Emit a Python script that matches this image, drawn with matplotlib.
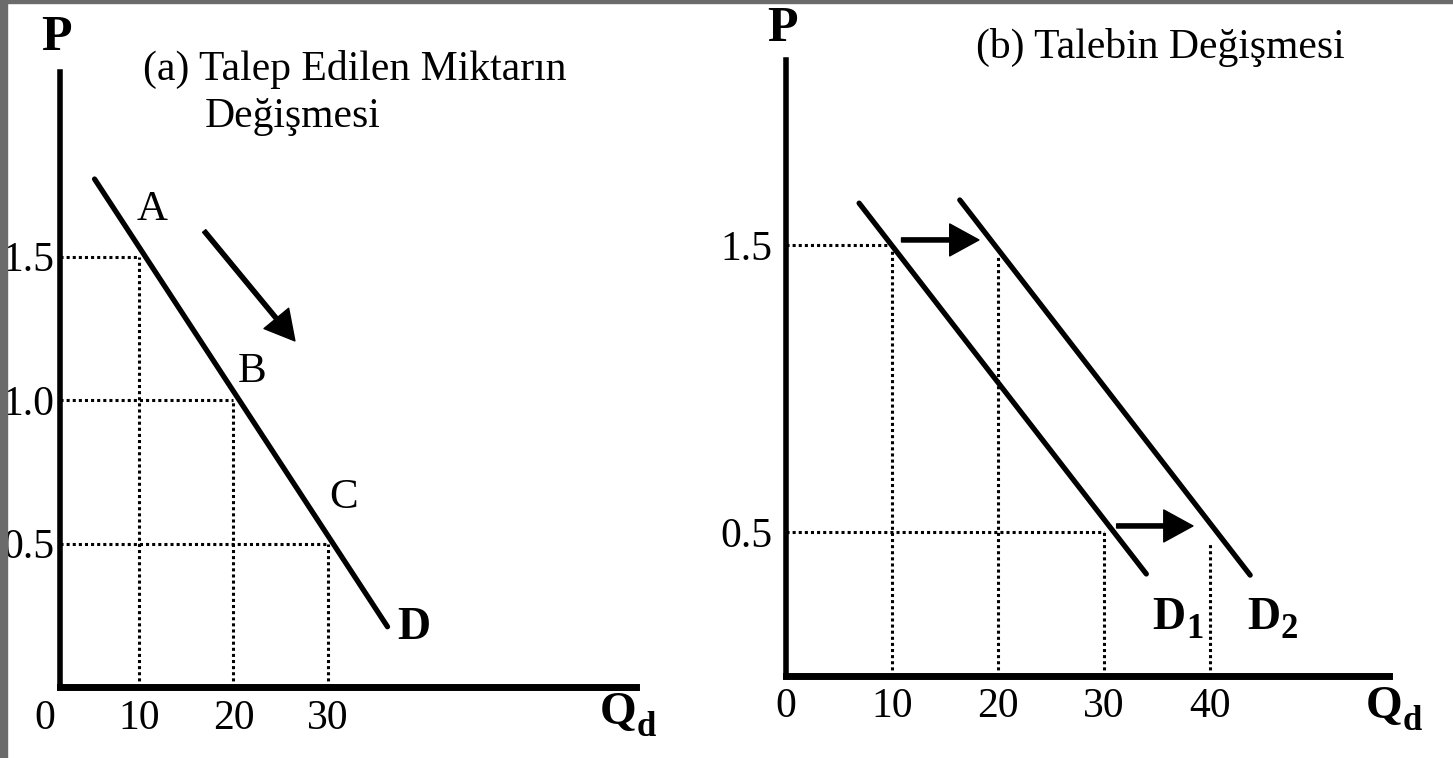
import matplotlib
matplotlib.use("Agg")
import matplotlib.pyplot as plt
from matplotlib.patches import Rectangle

W, H = 1453, 758

# (a) movement along one demand curve
a_q = [10, 20, 30]
a_p = [1.5, 1.0, 0.5]
a_names = ["A", "B", "C"]
a_demand_q = [5.3, 36.3]
a_demand_p = [1.77, 0.21]
a_xticks = [0, 10, 20, 30]
a_yticks = [0.5, 1.0, 1.5]
a_ylabels = ["0.5", "1.0", "1.5"]

# (b) shift of the demand curve
b_d1_q = [6.9, 34.0]
b_d1_p = [1.645, 0.355]
b_d2_q = [16.4, 43.8]
b_d2_p = [1.656, 0.351]
b_q_old = [10, 30]
b_q_new = [20, 40]
b_p = [1.5, 0.5]
b_xticks = [0, 10, 20, 30, 40]
b_yticks = [0.5, 1.5]

plt.rcParams["font.family"] = ["Liberation Serif", "DejaVu Serif"]


def fpos(x, y):
    # pixel position -> figure fraction
    return x / W, 1 - y / H


def setup_axes(ax, xmax, spine_x=0.0):
    ax.set_xlim(0, xmax)
    ax.set_ylim(0, 2.143)
    for side in ["top", "right"]:
        ax.spines[side].set_visible(False)
    ax.spines["left"].set_position(("data", spine_x))
    ax.spines["left"].set_linewidth(4)
    ax.spines["bottom"].set_linewidth(5)
    ax.spines["bottom"].set_bounds(spine_x, xmax)
    for s in ["left", "bottom"]:
        ax.spines[s].set_capstyle("projecting")
    ax.patch.set_alpha(0)
    ax.tick_params(length=0, labelsize=30)


def sub_label(ax, x, y, main, sub, size, sub_size, drop=-7, **kw):
    # bold letter with a subscript that sits a bit under the baseline
    t = ax.text(x, y, main, fontsize=size, fontweight="bold",
                ha="left", va="baseline", clip_on=False, **kw)
    ax.annotate(sub, xy=(1, 0), xycoords=t, xytext=(0, drop),
                textcoords="offset points", fontsize=sub_size,
                fontweight="bold", va="bottom", ha="left",
                annotation_clip=False)


dotted = dict(color="black", lw=2.2, linestyle=(0, (1, 1)))
arrow = dict(width=3, headwidth=23, headlength=21, color="black", shrink=0)

fig = plt.figure(figsize=(W / 100, H / 100), dpi=100)

# scan border
fig.add_artist(Rectangle((0, 0), 7 / W, 1, transform=fig.transFigure, color="#6b6b6b"))
fig.add_artist(Rectangle((0, 1 - 3 / H), 1, 3 / H, transform=fig.transFigure, color="#6b6b6b"))

# ---- panel (a)
ax1 = fig.add_axes([44.5 / W, 1 - 687 / H, 591.5 / W, 615 / H])
setup_axes(ax1, 62.6, spine_x=1.6)
ax1.set_xticks(a_xticks, [str(v) for v in a_xticks])
ax1.set_yticks(a_yticks, a_ylabels)
ax1.tick_params(axis="x", pad=9)
ax1.tick_params(axis="y", pad=4)

for q, p in zip(a_q, a_p):
    ax1.plot([1.6, q], [p, p], **dotted)
    ax1.plot([q, q], [0, p], **dotted)

ax1.plot(a_demand_q, a_demand_p, color="black", lw=3.8, solid_capstyle="round")

for name, (x, y) in zip(a_names, [(11.4, 1.662), (22.0, 1.098), (31.7, 0.659)]):
    ax1.text(x, y, name, fontsize=31, ha="center", va="center")
ax1.text(39.1, 0.206, "D", fontsize=33, fontweight="bold", ha="center", va="center")

ax1.annotate("", xy=(26.5, 1.206), xytext=(16.9, 1.589), arrowprops=arrow)

fig.text(*fpos(143, 80), "(a) Talep Edilen Miktarın", fontsize=30, va="baseline")
fig.text(*fpos(205, 127), "Değişmesi", fontsize=30, va="baseline")
fig.text(*fpos(56, 38), "P", fontsize=36, fontweight="bold", ha="center", va="center")
sub_label(ax1, *fpos(600, 724), "Q", "d", 34, 25, transform=fig.transFigure)

# ---- panel (b)
ax2 = fig.add_axes([786 / W, 1 - 676 / H, 603 / W, 616 / H])
setup_axes(ax2, 56.9)
ax2.set_xticks(b_xticks, [str(v) for v in b_xticks])
ax2.set_yticks(b_yticks, [str(v) for v in b_yticks])
ax2.tick_params(axis="x", pad=8)
ax2.tick_params(axis="y", pad=10)

for q, p in zip(b_q_old, b_p):
    ax2.plot([0, q], [p, p], **dotted)
    ax2.plot([q, q], [0, p], **dotted)
for q, p in zip(b_q_new, b_p):
    ax2.plot([q, q], [0, p - 0.04], **dotted)

ax2.plot(b_d1_q, b_d1_p, color="black", lw=3.8, solid_capstyle="round")
ax2.plot(b_d2_q, b_d2_p, color="black", lw=3.8, solid_capstyle="round")

ax2.annotate("", xy=(18.2, 1.517), xytext=(10.9, 1.517), arrowprops=arrow)
ax2.annotate("", xy=(38.4, 0.522), xytext=(31.2, 0.522), arrowprops=arrow)

sub_label(ax2, 34.6, 0.165, "D", "1", 33, 25, drop=-5)
sub_label(ax2, 43.5, 0.165, "D", "2", 33, 25, drop=-5)

fig.text(*fpos(976, 58), "(b) Talebin Değişmesi", fontsize=30, va="baseline")
fig.text(*fpos(782, 29), "P", fontsize=36, fontweight="bold", ha="center", va="center")
sub_label(ax2, *fpos(1366, 718), "Q", "d", 34, 25, transform=fig.transFigure)

fig.savefig("out.png", dpi=100)
